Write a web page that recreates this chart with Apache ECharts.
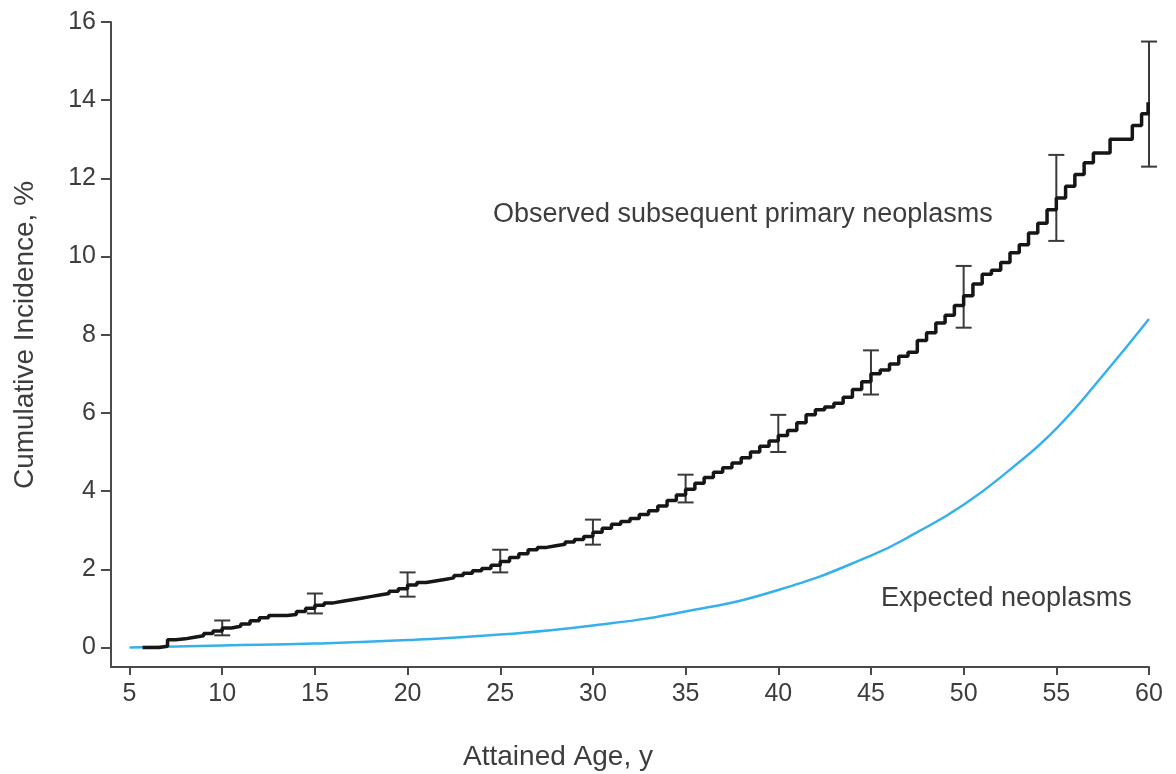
<!DOCTYPE html>
<html>
<head>
<meta charset="utf-8">
<script src="https://cdn.jsdelivr.net/npm/echarts@6/dist/echarts.min.js"></script>
<style>
  html, body { margin: 0; padding: 0; background: #fff; }
  #chart-container { width: 1176px; height: 774px; }
</style>
</head>
<body>
<div id="chart-container"></div>
<script>
var dom = document.getElementById("chart-container");
var myChart = echarts.init(dom, null, { renderer: "canvas" });

// observed cumulative incidence (step curve), age in years / percent
var obsAge = [5.7, 6.6, 7.05, 7.5, 8, 8.5, 9, 9.5, 10, 10.5, 11, 11.5, 12, 12.5, 13.5, 14, 14.5, 15, 15.5, 16,
  16.5, 17, 17.5, 18, 18.5, 19, 19.5, 20, 20.5, 21, 21.5, 22, 22.5, 23, 23.5, 24, 24.5, 25, 25.5, 26,
  26.5, 27, 27.5, 28, 28.5, 29, 29.5, 30, 30.5, 31, 31.5, 32, 32.5, 33, 33.5, 34, 34.5, 35, 35.5, 36,
  36.5, 37, 37.5, 38, 38.5, 39, 39.5, 40, 40.5, 41, 41.5, 42, 42.5, 43, 43.5, 44, 44.5, 45, 45.5, 46,
  46.5, 47, 47.5, 48, 48.5, 49, 49.5, 50, 50.5, 51, 51.5, 52, 52.5, 53, 53.5, 54, 54.5, 55, 55.5, 56,
  56.5, 57, 57.9, 59.1, 59.6, 59.95];
var obsPct = [0, 0.03, 0.2, 0.22, 0.26, 0.3, 0.36, 0.42, 0.5, 0.54, 0.6, 0.68, 0.76, 0.82, 0.84, 0.92, 1.0, 1.08, 1.14, 1.18,
  1.22, 1.26, 1.3, 1.34, 1.38, 1.44, 1.5, 1.6, 1.66, 1.7, 1.74, 1.78, 1.84, 1.9, 1.96, 2.02, 2.1, 2.2, 2.3, 2.4,
  2.5, 2.56, 2.6, 2.64, 2.7, 2.76, 2.84, 2.95, 3.05, 3.15, 3.22, 3.3, 3.4, 3.5, 3.62, 3.76, 3.9, 4.05, 4.2, 4.35,
  4.48, 4.6, 4.72, 4.85, 5.0, 5.15, 5.28, 5.42, 5.55, 5.75, 5.95, 6.08, 6.15, 6.25, 6.4, 6.6, 6.8, 7.0, 7.1, 7.25,
  7.45, 7.55, 7.85, 8.05, 8.3, 8.5, 8.75, 9.0, 9.3, 9.55, 9.65, 9.85, 10.1, 10.3, 10.6, 10.85, 11.2, 11.5, 11.8, 12.1,
  12.4, 12.65, 13.0, 13.35, 13.65, 13.95];

// expected neoplasms
var expAge = [5, 10, 15, 20, 25, 30, 35, 40, 45, 47.5, 50, 52.5, 55, 57.5, 60];
var expPct = [0, 0.05, 0.1, 0.19, 0.33, 0.56, 0.92, 1.47, 2.35, 2.95, 3.65, 4.55, 5.6, 6.95, 8.4];

// 95% CI bars on the observed curve
var barAge = [10, 15, 20, 25, 30, 35, 40, 45, 50, 55, 60];
var barLow = [0.31, 0.87, 1.3, 1.92, 2.63, 3.71, 5.0, 6.47, 8.18, 10.4, 12.3];
var barHigh = [0.69, 1.38, 1.92, 2.5, 3.27, 4.42, 5.95, 7.6, 9.76, 12.6, 15.5];

var xTicks = [5, 10, 15, 20, 25, 30, 35, 40, 45, 50, 55, 60];
var yTicks = [0, 2, 4, 6, 8, 10, 12, 14, 16];

var textColor = "#3d3d3d";
var axisColor = "#4a4a4a";
var fontFam = "Liberation Sans, Arial, sans-serif";

var obsData = obsAge.map(function (a, i) { return [a, obsPct[i]]; });
var expData = expAge.map(function (a, i) { return [a, expPct[i]]; });
var barData = barAge.map(function (a, i) { return [a, barLow[i], barHigh[i]]; });

var option = {
  animation: false,
  grid: { left: 111, right: 27, top: 22, bottom: 107 },
  xAxis: {
    type: "value",
    min: 4,
    max: 60,
    splitLine: { show: false },
    axisLine: { onZero: false, lineStyle: { color: axisColor, width: 2 } },
    axisTick: { customValues: xTicks, length: 8, lineStyle: { color: axisColor, width: 2 } },
    axisLabel: { customValues: xTicks, margin: 15, fontSize: 25, color: textColor, fontFamily: fontFam },
  },
  yAxis: {
    type: "value",
    min: -0.5,
    max: 16,
    splitLine: { show: false },
    axisLine: { show: true, onZero: false, lineStyle: { color: axisColor, width: 2 } },
    axisTick: { show: true, customValues: yTicks, length: 10, lineStyle: { color: axisColor, width: 2 } },
    axisLabel: { customValues: yTicks, margin: 15, fontSize: 25, color: textColor, fontFamily: fontFam },
  },
  graphic: [
    {
      type: "text", x: 25, y: 335, rotation: Math.PI / 2,
      style: { text: "Cumulative Incidence, %", fill: textColor, font: "28px " + fontFam, align: "center", verticalAlign: "middle" },
    },
    {
      type: "text", x: 558, y: 757,
      style: { text: "Attained Age, y", fill: textColor, font: "28px " + fontFam, align: "center", verticalAlign: "middle" },
    },
    {
      type: "text", x: 493, y: 215,
      style: { text: "Observed subsequent primary neoplasms", fill: textColor, font: "27px " + fontFam, align: "left", verticalAlign: "middle" },
    },
    {
      type: "text", x: 881, y: 599,
      style: { text: "Expected neoplasms", fill: textColor, font: "27px " + fontFam, align: "left", verticalAlign: "middle" },
    },
  ],
  series: [
    {
      name: "Expected",
      type: "line",
      smooth: true,
      showSymbol: false,
      lineStyle: { color: "#36b0ea", width: 2.5 },
      data: expData,
    },
    {
      name: "Observed",
      type: "line",
      step: "end",
      showSymbol: false,
      lineStyle: { color: "#161616", width: 3.5 },
      data: obsData,
    },
    {
      name: "CI",
      type: "custom",
      renderItem: function (params, api) {
        var x = api.value(0);
        var lo = api.coord([x, api.value(1)]);
        var hi = api.coord([x, api.value(2)]);
        var half = 8;
        var st = { stroke: "#3a3a3a", lineWidth: 2 };
        return {
          type: "group",
          children: [
            { type: "line", shape: { x1: lo[0], y1: lo[1], x2: hi[0], y2: hi[1] }, style: st },
            { type: "line", shape: { x1: lo[0] - half, y1: lo[1], x2: lo[0] + half, y2: lo[1] }, style: st },
            { type: "line", shape: { x1: hi[0] - half, y1: hi[1], x2: hi[0] + half, y2: hi[1] }, style: st },
          ],
        };
      },
      encode: { x: 0, y: [1, 2] },
      data: barData,
      z: 3,
    },
  ],
};

myChart.setOption(option);
window.addEventListener("resize", myChart.resize);
</script>
</body>
</html>
